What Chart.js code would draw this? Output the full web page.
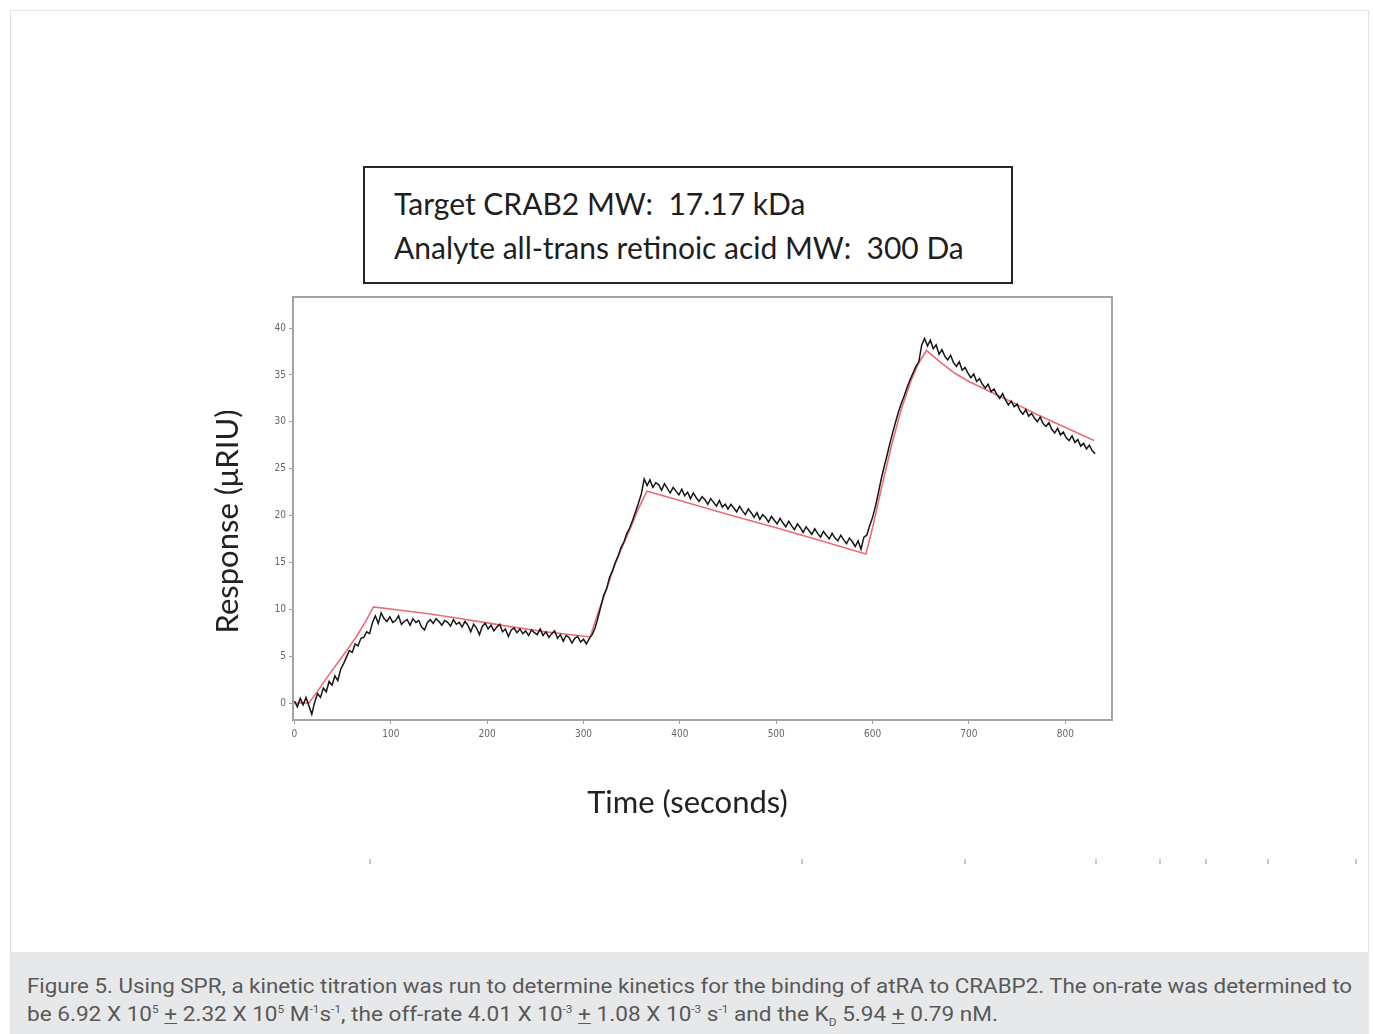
<!DOCTYPE html>
<html>
<head>
<meta charset="utf-8">
<script src="https://cdn.jsdelivr.net/npm/chart.js@4.4.1/dist/chart.umd.min.js"></script>
<style>
  html, body { margin: 0; padding: 0; background: #ffffff; }
  #page { position: relative; width: 1373px; height: 1034px; overflow: hidden; background: #fff; }
  #frame { position: absolute; left: 10px; top: 10px; width: 1359px; height: 1040px; border: 1px solid #e3e3e3; box-sizing: border-box; }
  #plot { position: absolute; left: 0; top: 0; }
  #infobox { position: absolute; left: 363px; top: 166px; width: 650px; height: 118px; box-sizing: border-box;
             border: 2px solid #262626; background: #fff; }
  .boxline { position: absolute; left: 29px; font-family: Lato, "Open Sans", sans-serif; font-size: 30px;
             color: #1e1e1e; white-space: pre; line-height: 1; }
  #caption { position: absolute; left: 11px; top: 952px; width: 1358px; height: 90px; background: #e7e8ea; }
  .capline { position: absolute; left: 16px; font-family: Roboto, "Open Sans", sans-serif; font-size: 21px;
             color: #595959; white-space: nowrap; line-height: 1; transform-origin: 0 50%; }
  .capline sup { font-size: 11px; vertical-align: 8px; line-height: 0; }
  .capline sub { font-size: 11px; vertical-align: -5px; line-height: 0; }
  .capline u { text-decoration-thickness: 1px; text-underline-offset: 2px; }
  .scrap { position: absolute; top: 859px; width: 2px; height: 5px; background: #c9c9c9; }
</style>
</head>
<body>
<div id="page">
  <div id="frame"></div>
  <canvas id="plot" width="1373" height="1034"></canvas>
  <div id="infobox">
    <div class="boxline" id="bl1">Target CRAB2 MW:  17.17 kDa</div>
    <div class="boxline" id="bl2">Analyte all-trans retinoic acid MW:  300 Da</div>
  </div>
  <div class="scrap" style="left:369px"></div>
  <div class="scrap" style="left:801px"></div>
  <div class="scrap" style="left:964px"></div>
  <div class="scrap" style="left:1095px"></div>
  <div class="scrap" style="left:1159px"></div>
  <div class="scrap" style="left:1205px"></div>
  <div class="scrap" style="left:1267px"></div>
  <div class="scrap" style="left:1355px"></div>
  <div id="caption">
    <div class="capline" id="cap1" data-w="1325">Figure 5. Using SPR, a kinetic titration was run to determine kinetics for the binding of atRA to CRABP2. The on-rate was determined to</div>
    <div class="capline" id="cap2" data-w="971">be 6.92 X 10<sup>5</sup> <u>+</u> 2.32 X 10<sup>5</sup> M<sup>-1</sup>s<sup>-1</sup>, the off-rate 4.01 X 10<sup>-3</sup> <u>+</u> 1.08 X 10<sup>-3</sup> s<sup>-1</sup> and the K<sub>D</sub> 5.94 <u>+</u> 0.79 nM.</div>
  </div>
</div>
<script>
// Sensorgram: measured response (µRIU), one sample every 3 s starting at t = 0 s
const SAMPLE_STEP_S = 3;
const responseTrace = [
  0.2, -0.4, 0.5, -0.2, 0.6, -0.3, -1.2, 0.1, 1.0, 0.6,
  1.6, 1.2, 2.3, 1.9, 2.9, 2.4, 3.6, 4.2, 4.9, 5.6,
  5.4, 6.3, 6.1, 6.9, 7.0, 7.6, 7.4, 8.6, 9.3, 8.5,
  9.6, 9.0, 8.7, 9.2, 8.6, 8.8, 9.3, 8.4, 8.7, 8.9,
  8.3, 9.0, 8.6, 8.8, 8.1, 7.8, 8.6, 8.9, 8.5, 9.0,
  8.7, 8.3, 8.8, 8.6, 8.2, 8.9, 8.4, 8.6, 8.1, 8.7,
  8.3, 7.6, 8.4, 8.0, 7.3, 8.2, 8.5, 7.9, 8.3, 7.7,
  8.1, 8.4, 7.6, 7.9, 7.1, 7.8, 8.0, 7.5, 7.9, 7.4,
  7.7, 7.2, 7.8, 7.5, 7.3, 7.9, 7.2, 7.6, 7.0, 7.4,
  7.7, 6.9, 7.3, 6.6, 7.2, 7.0, 6.4, 6.9, 7.1, 6.5,
  6.8, 6.3, 6.9, 7.3, 8.0, 9.1, 10.3, 11.5, 12.2, 13.4,
  14.1, 15.0, 15.7, 16.6, 17.2, 18.1, 18.7, 19.5, 20.4, 21.3,
  22.3, 23.9, 23.2, 23.8, 23.0, 23.5, 23.3, 22.7, 23.4, 22.9,
  22.4, 23.0, 22.6, 22.2, 22.8, 22.1, 22.5, 21.8, 22.4, 21.9,
  21.5, 22.0, 21.7, 21.2, 21.8, 21.4, 21.0, 21.6, 20.9, 21.2,
  20.7, 21.2, 20.8, 20.4, 21.0, 20.5, 20.1, 20.7, 20.3, 19.8,
  20.3, 19.6, 20.1, 19.8, 19.3, 19.9, 19.5, 19.1, 19.7, 19.2,
  18.8, 19.4, 18.9, 18.5, 19.1, 18.7, 18.2, 18.8, 18.4, 18.0,
  18.6, 18.1, 17.7, 18.3, 17.9, 17.5, 18.1, 17.6, 17.3, 17.9,
  17.4, 17.0, 17.6, 17.2, 16.7, 17.3, 16.4, 17.7, 17.9, 18.9,
  19.8, 21.0, 22.4, 23.9, 25.2, 26.4, 27.7, 28.9, 30.0, 31.1,
  32.0, 32.8, 33.7, 34.5, 35.2, 35.9, 36.4, 38.2, 38.9, 38.1,
  38.7, 37.8, 38.2, 37.2, 37.7, 37.0, 36.6, 37.1, 36.3, 35.9,
  36.4, 35.5, 35.8, 35.2, 34.7, 35.1, 34.3, 34.6, 34.0, 33.6,
  34.0, 33.2, 33.5, 32.9, 32.5, 33.0, 32.3, 31.8, 32.2, 31.6,
  31.9, 31.2, 30.8, 31.3, 30.6, 30.9, 30.4, 30.0, 30.5, 29.8,
  29.5, 29.9, 29.2, 28.8, 29.3, 28.6, 28.9, 28.3, 28.0, 28.5,
  27.8, 28.1, 27.4, 27.7, 27.1, 27.5, 26.9, 26.6
];

// Global kinetic fit (time s, response µRIU)
const fitTime = [
  0, 15, 25, 35, 45, 55, 65, 75, 82,
  110, 141, 170, 200, 227, 260, 290, 307,
  315, 324, 332, 340, 348, 356, 362, 366,
  400, 450, 500, 550, 593,
  600, 610, 620, 630, 640, 648, 656,
  670, 685, 700, 720, 743, 770, 798, 815, 830
];
const fitResponse = [
  0.0, 0.0, 1.4, 2.9, 4.3, 5.7, 7.2, 8.9, 10.25,
  9.9, 9.5, 9.05, 8.55, 8.1, 7.6, 7.25, 7.05,
  9.6, 12.2, 14.6, 16.6, 18.5, 20.5, 21.8, 22.6,
  21.6, 20.1, 18.7, 17.2, 15.9,
  18.7, 23.3, 27.6, 31.4, 34.4, 36.3, 37.6,
  36.4, 35.2, 34.3, 33.3, 32.2, 30.8, 29.5, 28.7, 28.0
];

// Axis settings
const xTickStep = 100;
const yTickStep = 5;
const xTitle = 'Time (seconds)';
const yTitle = 'Response (\u03bcRIU)';

const tracePoints = responseTrace.map((v, i) => ({ x: i * SAMPLE_STEP_S, y: v }));
const fitPoints = fitTime.map((t, i) => ({ x: t, y: fitResponse[i] }));

// Grey box around the plotting area
const plotFrame = {
  id: 'plotFrame',
  afterDraw(chart) {
    const { ctx, chartArea: a } = chart;
    ctx.save();
    ctx.strokeStyle = '#a3a3a3';
    ctx.lineWidth = 2;
    ctx.strokeRect(a.left, a.top, a.right - a.left, a.bottom - a.top);
    ctx.restore();
  }
};

// Axis titles, set slightly off the plot centre as in the figure layout
const axisTitles = {
  id: 'axisTitles',
  afterDraw(chart, args, opts) {
    const { ctx, chartArea: a } = chart;
    ctx.save();
    ctx.fillStyle = opts.color;
    ctx.font = opts.size + 'px ' + opts.family;
    ctx.textAlign = 'center';
    ctx.textBaseline = 'middle';
    ctx.fillText(opts.x, (a.left + a.right) / 2 + opts.xShift, a.bottom + opts.xGap);
    ctx.translate(a.left - opts.yGap, (a.top + a.bottom) / 2 + opts.yShift);
    ctx.rotate(-Math.PI / 2);
    ctx.fillText(opts.y, 0, 0);
    ctx.restore();
  }
};

const tickFont = { family: '"Liberation Sans Narrow", "Arial Narrow", "DejaVu Sans Condensed", sans-serif', size: 10 };

new Chart(document.getElementById('plot'), {
  type: 'line',
  data: {
    datasets: [
      { label: 'Response', data: tracePoints, borderColor: '#161616', borderWidth: 1.5,
        pointRadius: 0, tension: 0 },
      { label: 'Fit', data: fitPoints, borderColor: '#ee6b74', borderWidth: 1.6,
        pointRadius: 0, tension: 0 }
    ]
  },
  options: {
    responsive: false,
    animation: false,
    events: [],
    layout: { padding: { left: 208, right: 261, top: 297, bottom: 211 } },
    plugins: {
      legend: { display: false },
      tooltip: { enabled: false },
      axisTitles: { x: xTitle, y: yTitle, color: '#222', size: 31, family: 'Lato, "Open Sans", sans-serif',
                    xShift: -15, xGap: 83, yShift: 13, yGap: 65 }
    },
    scales: {
      x: {
        type: 'linear', min: -1.5, max: 848.5,
        ticks: { stepSize: xTickStep, includeBounds: false, color: '#666', font: tickFont, padding: 4, maxRotation: 0 },
        grid: { drawOnChartArea: false, tickLength: 4, color: '#a3a3a3' },
        border: { display: false },
        afterFit(s) { s.height = 103; }
      },
      y: {
        type: 'linear', min: -1.81, max: 43.31,
        ticks: { stepSize: yTickStep, includeBounds: false, color: '#666', font: tickFont, padding: 3 },
        grid: { drawOnChartArea: false, tickLength: 4, color: '#a3a3a3' },
        border: { display: false },
        afterFit(s) { s.width = 85; }
      }
    }
  },
  plugins: [plotFrame, axisTitles]
});

// Lay out the text lines of the header box and the caption
function layoutText() {
  document.getElementById('bl1').style.top = '20px';
  document.getElementById('bl2').style.top = '64px';
  const tops = { cap1: 24, cap2: 52 };
  document.querySelectorAll('.capline').forEach(el => {
    el.style.top = tops[el.id] + 'px';
    el.style.transform = 'none';
    const w = el.getBoundingClientRect().width;
    const target = parseFloat(el.dataset.w);
    el.style.transform = 'scaleX(' + (target / w) + ')';
  });
}
layoutText();
if (document.fonts && document.fonts.ready) document.fonts.ready.then(layoutText);
</script>
</body>
</html>
